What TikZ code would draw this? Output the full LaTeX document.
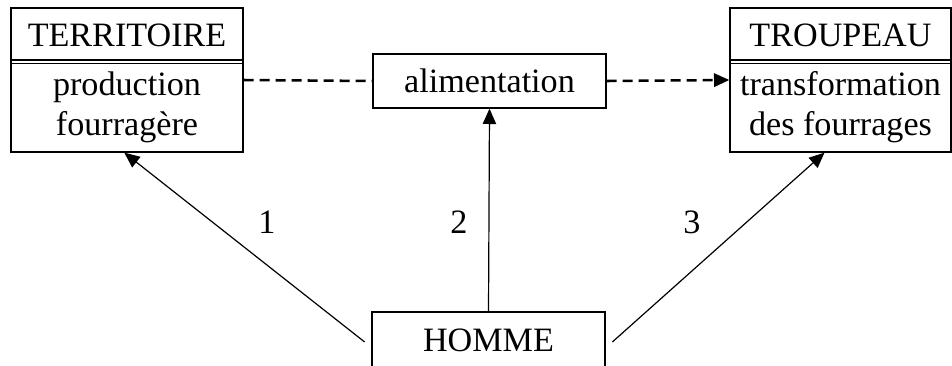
\documentclass[tikz,border=0pt]{standalone}
\usepackage{fontspec}
\setmainfont{Liberation Serif}
\usetikzlibrary{arrows.meta}
\begin{document}
\begin{tikzpicture}[x=0.75pt,y=-0.75pt,
  box/.style={draw,line width=1pt,inner sep=0pt,anchor=center},
  lbl/.style={font=\fontsize{25.6}{30}\selectfont,align=center,inner sep=0pt},
  tip/.style={-{Triangle[length=11.5pt,width=10pt]}},
  link/.style={line width=0.9pt},
  dashline/.style={line width=1.9pt,dash pattern=on 7.5pt off 4.5pt}]
\useasboundingbox (0,0) rectangle (952,365);
% boxes
\node[box,minimum width=174pt,minimum height=108pt] (terr) at (127,80) {};
\node[box,minimum width=165.75pt,minimum height=108pt] (troup) at (840.5,80) {};
\node[box,minimum width=174.75pt,minimum height=40.5pt] (alim) at (489.5,81) {};
\node[box,minimum width=174.75pt,minimum height=42pt] (homme) at (488.5,340) {};
% dividers
\draw[line width=0.8pt] (terr.west |- 0,60) -- (terr.east |- 0,60);
\draw[line width=0.8pt] (terr.west |- 0,63.5) -- (terr.east |- 0,63.5);
\draw[line width=0.8pt] (troup.west |- 0,60) -- (troup.east |- 0,60);
\draw[line width=0.8pt] (troup.west |- 0,63.5) -- (troup.east |- 0,63.5);
% texts
\node[lbl] (terrT) at (127,35) {TERRITOIRE};
\node[lbl] (terrB) at (127,107) {production\\fourragère};
\node[lbl] (troupT) at (840.5,35) {TROUPEAU};
\node[lbl] (troupB) at (840.5,107) {transformation\\des fourrages};
\node[lbl] (alimT) at (489.5,81) {alimentation};
\node[lbl] (hommeT) at (488.5,340) {HOMME};
\node[lbl] (n1) at (267,222) {1};
\node[lbl] (n2) at (459,222) {2};
\node[lbl] (n3) at (692,222) {3};
% connectors
\draw[dashline] (terr.east) -- (alim.west);
\draw[dashline,tip] (alim.east) -- (troup.west);
\draw[link,tip] ([xshift=-5pt,yshift=-1.5pt]homme.west) -- ([xshift=-2pt]terr.south);
\draw[link,tip] (homme.north) -- (alim.south);
\draw[link,tip] ([xshift=5pt,yshift=-1.5pt]homme.east) -- ([xshift=-12pt]troup.south);
\end{tikzpicture}
\end{document}
